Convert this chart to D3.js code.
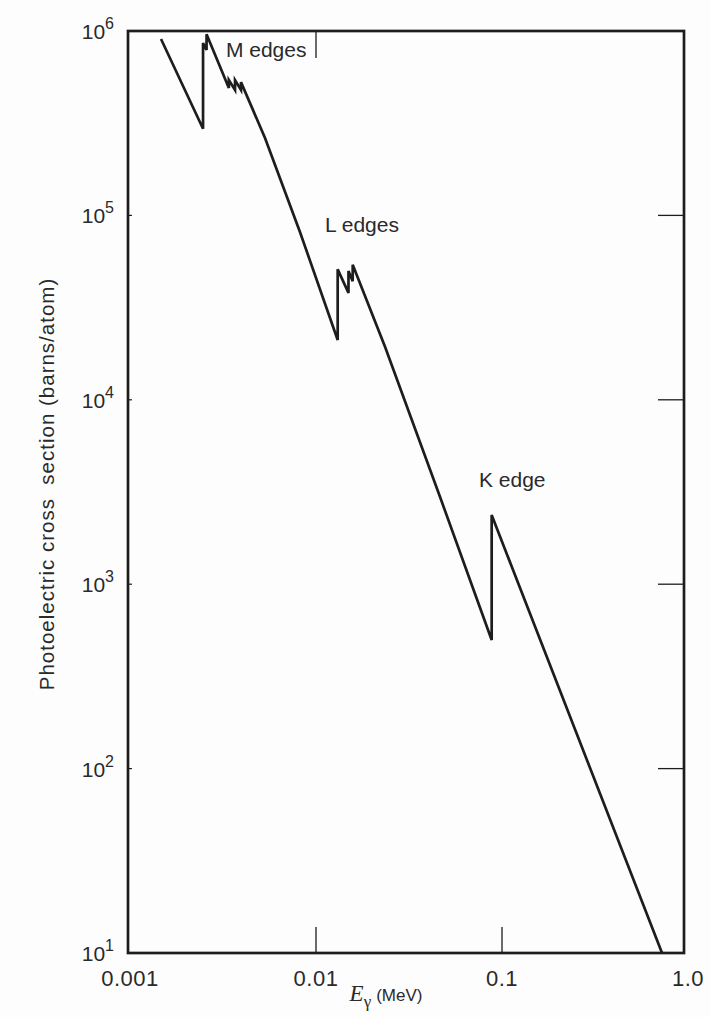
<!DOCTYPE html>
<html>
<head>
<meta charset="utf-8">
<script src="https://cdn.jsdelivr.net/npm/d3@7"></script>
<style>
  html, body { margin: 0; padding: 0; background: #fdfdfd; }
  svg { display: block; }
  text { font-family: "Liberation Sans", Arial, sans-serif; fill: #2a2a2a; }
</style>
</head>
<body>
<svg id="chart" width="711" height="1017"></svg>
<script>
// Photoelectric cross section of lead vs photon energy (log-log)
const energyMeV = [0.001468, 0.00247, 0.00247, 0.00258, 0.00258, 0.0034, 0.0034, 0.00367, 0.00367,
                   0.00395, 0.00395, 0.00532, 0.0082, 0.01308, 0.01308, 0.01495, 0.01495, 0.01575,
                   0.01575, 0.0235, 0.0464, 0.088, 0.088, 0.725];
const crossSection = [9.05e5, 2.95e5, 8.6e5, 7.9e5, 9.6e5, 4.91e5, 5.42e5, 4.79e5, 5.42e5,
                      4.79e5, 5.28e5, 2.63e5, 8.13e4, 2.11e4, 5.1e4, 3.8e4, 5.0e4, 4.4e4,
                      5.4e4, 1.94e4, 2.98e3, 498, 2370, 10];

const xTickValues = [0.001, 0.01, 0.1, 1];
const xTickLabels = ["0.001", "0.01", "0.1", "1.0"];
const yTickExponents = [1, 2, 3, 4, 5, 6];

const edgeLabels = [
  { text: "M edges", e: 0.00328, s: 7.2e5 },
  { text: "L edges", e: 0.01118, s: 8.13e4 },
  { text: "K edge",  e: 0.0752, s: 3.37e3 }
];

const svg = d3.select("#chart");
const box = { left: 128, right: 684, top: 31, bottom: 953 };

const x = d3.scaleLog().domain([0.001, 1]).range([130, 688]);
const y = d3.scaleLog().domain([10, 1e6]).range([953, 31]);

const ink = "#1d1d1d";

svg.append("defs").append("clipPath").attr("id", "plotClip")
  .append("rect")
  .attr("x", box.left).attr("y", box.top)
  .attr("width", box.right - box.left).attr("height", box.bottom - box.top);

// Curve
const pts = energyMeV.map((e, i) => [e, crossSection[i]]);
svg.append("path")
  .datum(pts)
  .attr("clip-path", "url(#plotClip)")
  .attr("fill", "none")
  .attr("stroke", ink)
  .attr("stroke-width", 2.7)
  .attr("stroke-linejoin", "miter")
  .attr("d", d3.line().x(d => x(d[0])).y(d => y(d[1])));

// Inner ticks: bottom (upward) and top (downward)
const tickLen = 26;
[0.01, 0.1].forEach(v => {
  svg.append("line")
    .attr("x1", x(v)).attr("x2", x(v))
    .attr("y1", box.bottom).attr("y2", box.bottom - tickLen)
    .attr("stroke", ink).attr("stroke-width", 1.3);
});
svg.append("line")
  .attr("x1", x(0.01)).attr("x2", x(0.01))
  .attr("y1", box.top).attr("y2", box.top + tickLen + 1)
  .attr("stroke", ink).attr("stroke-width", 1.3);

// Right-side ticks (inward) and small left-side ticks
[2, 3, 4, 5].forEach(p => {
  const yy = y(Math.pow(10, p));
  svg.append("line")
    .attr("x1", box.right).attr("x2", box.right - tickLen)
    .attr("y1", yy).attr("y2", yy)
    .attr("stroke", ink).attr("stroke-width", 1.3);
  svg.append("line")
    .attr("x1", box.left).attr("x2", box.left + 4)
    .attr("y1", yy).attr("y2", yy)
    .attr("stroke", ink).attr("stroke-width", 1.2);
});

// Frame
svg.append("rect")
  .attr("x", box.left).attr("y", box.top)
  .attr("width", box.right - box.left).attr("height", box.bottom - box.top)
  .attr("fill", "none").attr("stroke", ink).attr("stroke-width", 2.7);

// X tick labels
svg.append("g").selectAll("text")
  .data(xTickValues)
  .join("text")
  .attr("x", d => x(d))
  .attr("y", 986)
  .attr("text-anchor", "middle")
  .attr("font-size", 22)
  .attr("letter-spacing", 0.5)
  .text((d, i) => xTickLabels[i]);

// Y tick labels: 10 with superscript exponent
const yl = svg.append("g").selectAll("text")
  .data(yTickExponents)
  .join("text")
  .attr("x", 114)
  .attr("y", d => y(Math.pow(10, d)) + 8)
  .attr("text-anchor", "end")
  .attr("font-size", 21);
yl.append("tspan").text("10");
yl.append("tspan").attr("dy", -10).attr("font-size", 16).text(d => d);

// Axis titles
const xt = svg.append("text")
  .attr("x", 386).attr("y", 1001)
  .attr("text-anchor", "middle")
  .attr("font-size", 17);
xt.append("tspan")
  .attr("font-family", "'Liberation Serif', 'Times New Roman', serif")
  .attr("font-style", "italic").attr("font-size", 23).text("E");
xt.append("tspan")
  .attr("font-family", "'Liberation Serif', 'Times New Roman', serif")
  .attr("font-size", 17).attr("dy", 6).text("γ");
xt.append("tspan").attr("dy", -6).attr("dx", 5).text("(MeV)");

svg.append("text")
  .attr("transform", "translate(54,484) rotate(-90)")
  .attr("text-anchor", "middle")
  .attr("font-size", 20.5)
  .attr("letter-spacing", 1)
  .attr("xml:space", "preserve")
  .text("Photoelectric cross  section (barns/atom)");

// Absorption edge labels
svg.append("g").selectAll("text")
  .data(edgeLabels)
  .join("text")
  .attr("x", d => x(d.e))
  .attr("y", d => y(d.s))
  .attr("font-size", 21)
  .text(d => d.text);
</script>
</body>
</html>
